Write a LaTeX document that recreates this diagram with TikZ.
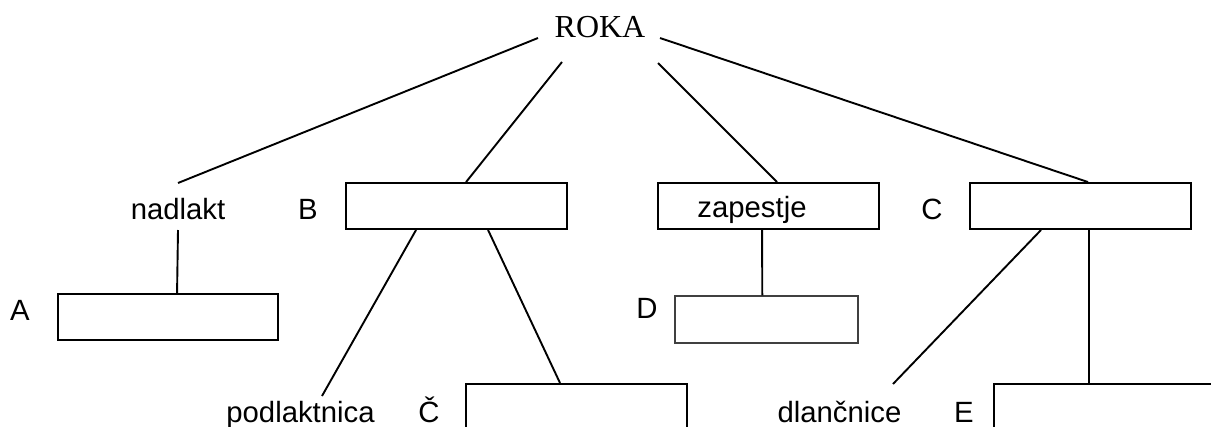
\documentclass[tikz,border=0pt]{standalone}
\usepackage{fontspec}
\setmainfont{Liberation Sans}
\newfontfamily\rokafont{Liberation Serif}
\begin{document}
\begin{tikzpicture}[x=1pt,y=-1pt,
  lbl/.style={anchor=base,inner sep=0pt,font=\fontsize{29.3}{32}\selectfont},
  box/.style={draw,line width=1.9pt,inner sep=0pt,minimum height=46pt},
  grbox/.style={draw=black!75,line width=1.4pt,inner sep=0pt,minimum height=47pt},
  con/.style={line width=1.9pt}]
\useasboundingbox (0,0) rectangle (1211,426);
\clip (0,0) rectangle (1211,426);
% top
\node[anchor=base,inner sep=0pt,font=\rokafont\fontsize{32}{36}\selectfont] (roka) at (600,37) {ROKA};
% level 2
\node[lbl] (nadlakt) at (178,219) {nadlakt};
\node[lbl] (B) at (308,219) {B};
\node[box,minimum width=221pt] (Bbox) at (456.5,206) {};
\node[box,minimum width=221pt] (zbox) at (768.5,206) {};
\node[lbl] (zapestje) at (752,217) {zapestje};
\node[lbl] (C) at (932,219) {C};
\node[box,minimum width=221pt] (Cbox) at (1080.5,206) {};
% level 3
\node[lbl] (A) at (20,320) {A};
\node[box,minimum width=220pt] (Abox) at (168,317) {};
\node[lbl] (D) at (647,318) {D};
\node[grbox,minimum width=183pt] (Dbox) at (766.5,319.5) {};
% level 4
\node[lbl] (podlaktnica) at (300.5,422) {podlaktnica};
\node[lbl] (C2) at (429,422) {Č};
\node[box,minimum width=221pt,minimum height=80pt] (Cvbox) at (576.5,424) {};
\node[lbl] (dlancnice) at (839.5,422) {dlančnice};
\node[lbl] (E) at (964,422) {E};
\node[box,minimum width=256pt,minimum height=80pt] (Ebox) at (1122,424) {};
% connectors
\draw[con] ([xshift=-62pt,yshift=-1pt]roka.base) -- ([yshift=36pt]nadlakt.base);
\draw[con] ([xshift=-38pt,yshift=-25pt]roka.base) -- ([xshift=121pt]Bbox.north west);
\draw[con] ([xshift=58pt,yshift=-26pt]roka.base) -- ([xshift=120pt]zbox.north west);
\draw[con] ([xshift=60pt,yshift=-1pt]roka.base) -- ([xshift=119pt]Cbox.north west);
\draw[con] ([yshift=-11pt]nadlakt.base) -- ([xshift=120pt]Abox.north west);
\draw[con] ([xshift=71pt]Bbox.south west) -- ([xshift=21.5pt,yshift=26pt]podlaktnica.base);
\draw[con] ([xshift=143pt]Bbox.south west) -- ([xshift=95pt]Cvbox.north west);
\draw[con] ([xshift=105pt]zbox.south west) -- ([xshift=88pt]Dbox.north west);
\draw[con] ([xshift=72pt]Cbox.south west) -- ([xshift=53.5pt,yshift=38pt]dlancnice.base);
\draw[con] ([xshift=120pt]Cbox.south west) -- ([xshift=96pt]Ebox.north west);
\end{tikzpicture}
\end{document}
